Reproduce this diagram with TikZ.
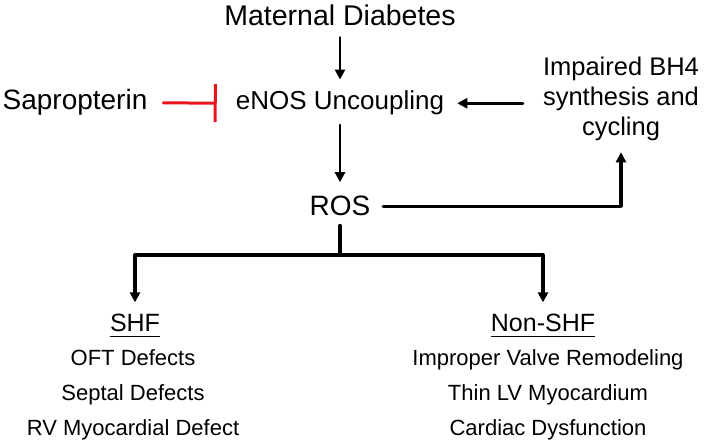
\documentclass[tikz,border=0pt]{standalone}
\usepackage{fontspec}
\setmainfont{Liberation Sans}
\usetikzlibrary{arrows.meta}
\definecolor{inhred}{RGB}{235,20,28}
\tikzset{
    txt/.style={inner sep=0pt, anchor=base},
    arr/.style={-{Triangle[length=10pt,width=10pt]}, line width=2.9pt},
    heavy/.style={line width=3.3pt},
    inhib/.style={-{Bar[width=38pt]}, line width=3pt, draw=inhred}
}
\begin{document}
\begin{tikzpicture}[line cap=round, line join=round, x=1pt, y=-1pt]
                \useasboundingbox (0,0) rectangle (709,443);
                \node[txt, font=\fontsize{28.5}{34}\selectfont] (md) at (340,26) {Maternal Diabetes};
                \node[txt, font=\fontsize{26}{31}\selectfont] (enos) at (340,110) {eNOS Uncoupling};
                \node[txt, font=\fontsize{28}{34}\selectfont] (sap) at (75,110) {Sapropterin};
                \node[txt, font=\fontsize{25.5}{30}\selectfont, align=center, anchor=north] (bh4) at (621,56.5) {Impaired BH4\\synthesis and\\cycling};
                \node[txt, font=\fontsize{28}{34}\selectfont] (ros) at (340,216) {ROS};
                \coordinate (split) at (340,255);
                \node[txt, font=\fontsize{25}{30}\selectfont] (shf) at (135,332) {SHF};
                \node[txt, font=\fontsize{25}{30}\selectfont] (nonshf) at (543,332) {Non-SHF};
                \foreach \i/\item/\y in {1/OFT Defects/365, 2/Septal Defects/400, 3/RV Myocardial Defect/435}
                    \node[txt, font=\fontsize{22}{26}\selectfont] (shf\i) at (133,\y) {\item};
                \foreach \i/\item/\y in {1/Improper Valve Remodeling/365, 2/Thin LV Myocardium/400, 3/Cardiac Dysfunction/435}
                    \node[txt, font=\fontsize{22}{26}\selectfont] (nonshf\i) at (548,\y) {\item};
                \foreach \h in {shf, nonshf}
                    \draw[line width=1.5pt, line cap=butt] ([yshift=-4pt]\h.south west) -- ([yshift=-4pt]\h.south east);
                \draw[arr, shorten <=11pt, shorten >=11.4pt] (md.south) -- (enos.north);
                \draw[arr, shorten <=9.5pt, shorten >=14pt] (enos.south) -- (ros.north);
                \draw[inhib, shorten <=15.6pt, shorten >=19pt] (sap.east) -- (enos.west);
                \draw[arr, shorten <=20pt, shorten >=13pt] (bh4.west |- enos.east) -- (enos.east);
                \draw[arr, heavy, shorten <=12.7pt, shorten >=11.6pt] (ros.east) -| (bh4.south);
                \draw[heavy, shorten <=9pt] (ros.south) -- (split);
                \draw[arr, heavy, shorten >=12pt] (split) -| (shf.north);
                \draw[arr, heavy, shorten >=12pt] (split) -| (nonshf.north);
            \end{tikzpicture}
\end{document}
